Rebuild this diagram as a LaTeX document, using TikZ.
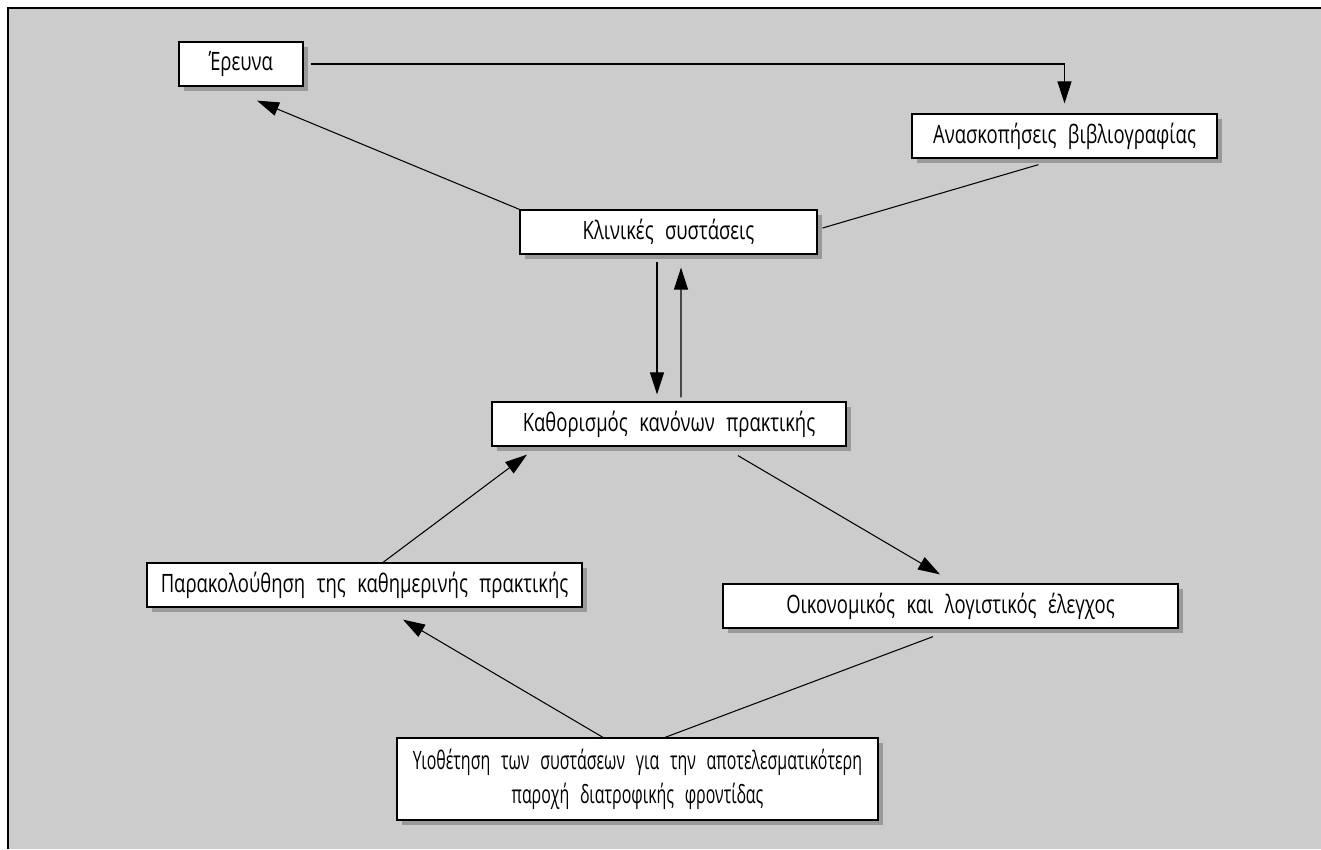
\documentclass[tikz,border=0pt]{standalone}
\usepackage{fontspec}
\setmainfont[FakeStretch=0.73,WordSpace={2.4}]{Open Sans}
\newfontfamily\narrowfont[FakeStretch=0.63,WordSpace={2.6}]{Open Sans}
\usepackage{xcolor}
\usetikzlibrary{arrows.meta,shadows,calc}
\definecolor{panelgray}{HTML}{CCCCCC}
\definecolor{shadegray}{HTML}{999999}

\begin{document}
\begin{tikzpicture}[
  x=0.02cm, y=-0.02cm,
  >={Triangle[length=0.44cm, width=0.28cm]},
  box/.style={rectangle, draw=black, fill=white, line width=0.7pt, minimum height=0.88cm, inner sep=0pt, align=center, font=\fontsize{14.4}{19.5}\selectfont, drop shadow={shadow xshift=0.1cm, shadow yshift=-0.1cm, fill=shadegray, opacity=1}},
  flow/.style={->, draw=black, line width=0.6pt},
  link/.style={draw=black, line width=0.6pt}
]
  \useasboundingbox (0,0) rectangle (1321,849);
  \fill[panelgray] (8,8) rectangle (1321,849);
  \draw[line width=1.4pt] (8,849) -- (8,8) -- (1321,8);

  \node[box, minimum width=2.48cm, align=none] (rsrch) at (241,64) {Έρευνα};
  \node[box, minimum width=6.1cm] (revw) at (1064.5,136) {Ανασκοπήσεις βιβλιογραφίας};
  \node[box, minimum width=5.94cm] (clin) at (668.5,232) {Κλινικές συστάσεις};
  \node[box, minimum width=7.08cm] (rules) at (669,424) {Καθορισμός κανόνων πρακτικής};
  \node[box, minimum width=8.7cm] (monit) at (364.5,585) {Παρακολούθηση της καθημερινής πρακτικής};
  \node[box, minimum width=9.1cm] (audit) at (950.5,606) {Οικονομικός και λογιστικός έλεγχος};
  \node[box, minimum width=9.62cm, minimum height=1.64cm, font=\narrowfont\fontsize{14.4}{19.5}\selectfont] (adopt) at (637.5,779) {Υιοθέτηση των συστάσεων για την αποτελεσματικότερη\\παροχή διατροφικής φροντίδας};

  \draw[flow, shorten <=0.14cm, shorten >=0.2cm] (rsrch.east) -| (revw.north);
  \draw[flow] (clin.north west) -- ($(rsrch.south)+(16,14)$);
  \draw[link] ($(revw.south)+(-26,6)$) -- ($(clin.east)+(5,-4)$);
  \draw[flow] ($(clin.south)+(-11.5,7)$) -- ($(rules.north)+(-12,-7)$);
  \draw[flow] ($(rules.north)+(12,-4)$) -- ($(clin.south)+(12.5,13)$);
  \draw[flow] ($(monit.north)+(18.5,0)$) -- ($(rules.south)+(-142,8)$);
  \draw[flow] ($(rules.south)+(69,9)$) -- ($(audit.north)+(-10.5,-9)$);
  \draw[flow] ($(adopt.north)+(-34.5,0)$) -- ($(monit.south)+(38.5,12)$);
  \draw[link] ($(audit.south)+(-17.5,8)$) -- ($(adopt.north)+(27.5,0)$);
\end{tikzpicture}
\end{document}
